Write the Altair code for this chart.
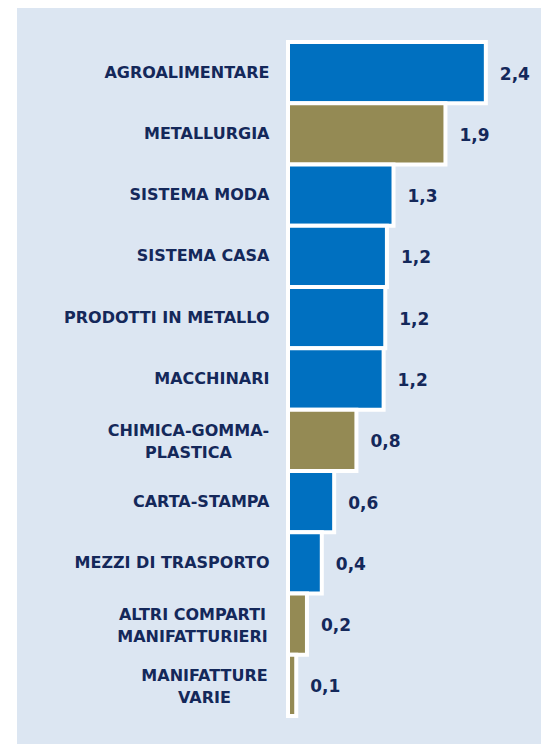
import altair as alt
import pandas as pd

# --- data ---
categorie = [
    "AGROALIMENTARE",
    "METALLURGIA",
    "SISTEMA MODA",
    "SISTEMA CASA",
    "PRODOTTI IN METALLO",
    "MACCHINARI",
    "CHIMICA-GOMMA-|PLASTICA",
    "CARTA-STAMPA",
    "MEZZI DI TRASPORTO",
    "ALTRI COMPARTI|MANIFATTURIERI",
    "MANIFATTURE|VARIE",
]
valori = [2.4, 1.91, 1.28, 1.2, 1.18, 1.16, 0.83, 0.56, 0.41, 0.23, 0.1]
gruppi = ["A", "B", "A", "A", "A", "A", "B", "A", "A", "B", "B"]
gruppi_dominio = ["A", "B"]
colori = ["#0070C0", "#948A54"]

NAVY = "#14285a"
PANEL = "#DCE6F2"
FONT = "DejaVu Sans"

df = pd.DataFrame({"settore": categorie, "valore": valori, "gruppo": gruppi})

MULTI = "indexof(datum.value, '|') >= 0"

y_enc = alt.Y(
    "settore:N",
    sort=categorie,
    scale=alt.Scale(paddingInner=0, paddingOuter=0),
    axis=alt.Axis(
        title=None,
        domain=False,
        ticks=False,
        grid=False,
        zindex=1,
        labelExpr="split(datum.label, '|')",
        labelFont=FONT,
        labelFontWeight="bold",
        labelFontSize=16,
        labelColor=NAVY,
        labelLineHeight=22,
        labelLimit=330,
        labelAlign={
            "condition": {"test": MULTI, "value": "center"},
            "value": "right",
        },
        labelOffset={
            "condition": {"test": MULTI, "value": -9},
            "value": 0,
        },
        labelPadding={
            "condition": [
                {"test": "datum.value == 'MANIFATTURE|VARIE'", "value": 84},
                {"test": "datum.value == 'CHIMICA-GOMMA-|PLASTICA'", "value": 100},
                {"test": MULTI, "value": 96},
            ],
            "value": 19,
        },
    ),
)

x_enc = alt.X(
    "valore:Q",
    scale=alt.Scale(domain=[0, 2.96], nice=False, zero=True),
    axis=None,
)

bg = (
    alt.Chart(pd.DataFrame({"k": [0]}))
    .mark_rect(color=PANEL)
    .encode(
        x=alt.value(-271),
        x2=alt.value(253),
        y=alt.value(-34),
        y2=alt.value(702),
    )
)

bars = (
    alt.Chart(df)
    .mark_bar(stroke="white", strokeWidth=4)
    .encode(
        x=x_enc,
        y=y_enc,
        color=alt.Color(
            "gruppo:N",
            scale=alt.Scale(domain=gruppi_dominio, range=colori),
            legend=None,
        ),
    )
)

labels = (
    alt.Chart(df)
    .transform_calculate(
        testo="replace(format(datum.valore, '.1f'), '.', ',')"
    )
    .mark_text(
        align="left",
        baseline="middle",
        dx=14,
        dy=2,
        font=FONT,
        fontSize=17,
        fontWeight="bold",
        color=NAVY,
    )
    .encode(x=x_enc, y=y_enc, text="testo:N")
)

chart = (
    alt.layer(bg, bars, labels)
    .properties(
        width=244,
        height=674,
        padding={"left": 9, "top": 0, "right": 0, "bottom": 0},
        background="white",
    )
    .configure_view(stroke=None)
)

chart.save("out.html", embed_options={"renderer": "svg", "actions": False})
